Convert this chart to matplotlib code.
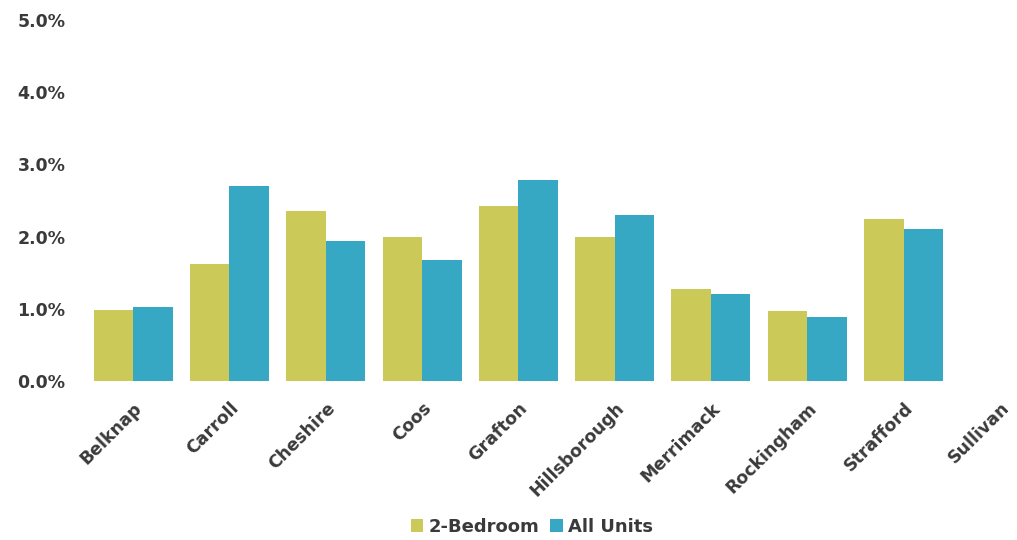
import matplotlib.pyplot as plt
import numpy as np

counties = ["Belknap", "Carroll", "Cheshire", "Coos", "Grafton",
            "Hillsborough", "Merrimack", "Rockingham", "Strafford", "Sullivan"]
two_bedroom = [0.98, 1.62, 2.36, 2.00, 2.42, 2.00, 1.28, 0.97, 2.24, 0.0]
all_units = [1.02, 2.70, 1.94, 1.68, 2.78, 2.30, 1.21, 0.89, 2.10, 0.0]
y_ticks = [0, 1, 2, 3, 4, 5]

YELLOW = "#cbca58"
BLUE = "#36a8c3"
TEXT = "#3a3a3a"

fig = plt.figure(figsize=(10.17, 5.40), dpi=100)
# plot area: first group centred at x~133px, groups ~96px apart
ax = fig.add_axes([85 / 1017, (540 - 381) / 540, 963 / 1017, 361 / 540])

x = np.arange(len(counties))
w = 0.41
ax.bar(x - w / 2, two_bedroom, w, color=YELLOW, label="2-Bedroom")
ax.bar(x + w / 2, all_units, w, color=BLUE, label="All Units")

ax.set_xlim(-0.5, len(counties) - 0.5)
ax.set_ylim(0, 5)
ax.set_yticks(y_ticks)
ax.set_yticklabels([f"{v:.1f}%" for v in y_ticks])
ax.set_xticks(x)
ax.set_xticklabels(counties, rotation=45, ha="right", rotation_mode="anchor")

for side in ax.spines.values():
    side.set_visible(False)
ax.tick_params(axis="both", length=0, labelsize=12.5, labelcolor=TEXT)
ax.tick_params(axis="y", pad=14)
ax.tick_params(axis="x", pad=13)
for lbl in ax.get_xticklabels() + ax.get_yticklabels():
    lbl.set_fontweight("bold")

leg = fig.legend(loc="center", bbox_to_anchor=(532 / 1017, 1 - 527 / 540),
                 ncol=2, frameon=False, handlelength=0.7, handleheight=0.7,
                 handletextpad=0.3, columnspacing=0.6,
                 prop={"weight": "bold", "size": 13})
for t in leg.get_texts():
    t.set_color(TEXT)

fig.savefig("out.png", dpi=100)
